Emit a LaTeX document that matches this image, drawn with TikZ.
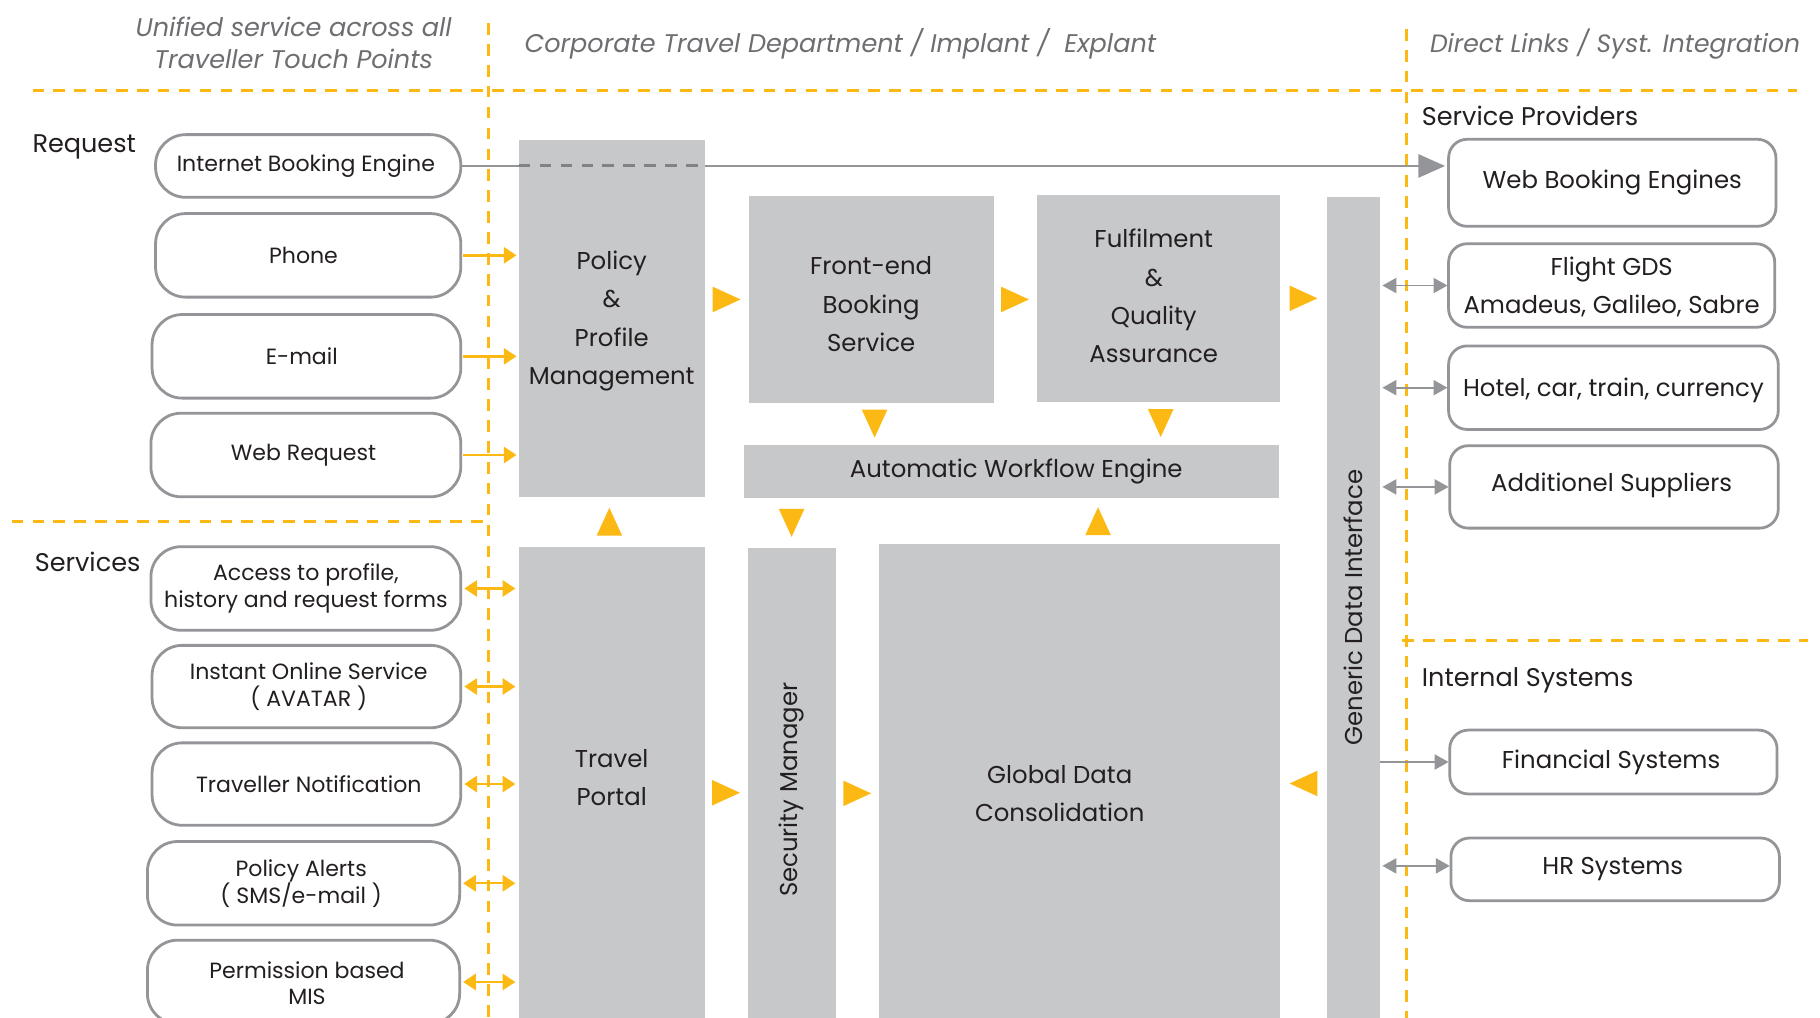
\documentclass[tikz,border=0pt]{standalone}
\usepackage{fontspec}
\setmainfont{Poppins}
\usetikzlibrary{arrows.meta,fit,calc}
\definecolor{org}{HTML}{FDB913}
\definecolor{boxgray}{HTML}{C7C8CA}
\definecolor{linegray}{HTML}{939598}
\definecolor{dashgray}{HTML}{808285}
\definecolor{txt}{HTML}{231F20}
\definecolor{headgray}{HTML}{6D6E71}
\newcommand\fLeft{\fontsize{9.5}{11.5}\selectfont}
\newcommand\fRight{\fontsize{10.5}{16.5}\selectfont}
\newcommand\fGray{\fontsize{10.5}{16.5}\selectfont}
\newcommand\fRot{\fontsize{10.5}{12}\selectfont}
\newcommand\fHead{\fontsize{11}{13.5}\selectfont\itshape}
\newcommand\fLab{\fontsize{11}{13}\selectfont}
\begin{document}
\begin{tikzpicture}[x=0.5pt,y=-0.5pt,
  every node/.style={inner sep=0pt, outer sep=0pt, text=txt},
  gbox/.style={fill=boxgray},
  lbox/.style={draw=linegray, line width=1.2pt, rounded corners=13pt, fill=white},
  rbox/.style={draw=linegray, line width=1.2pt, rounded corners=8pt, fill=white},
  lt/.style={font=\fLeft, align=center},
  rt/.style={font=\fRight, align=center},
  gt/.style={font=\fGray, align=center},
  head/.style={text=headgray, font=\fHead, align=center},
  lab/.style={font=\fLab, anchor=west},
  sep/.style={draw=org, line width=1.2pt, dash pattern=on 5pt off 4pt},
  oarr/.style={draw=org, line width=1pt, -{Triangle[length=5.5pt,width=7pt]}},
  oarrb/.style={draw=org, line width=1pt, {Triangle[length=5.5pt,width=7pt]}-{Triangle[length=5.5pt,width=7pt]}},
  garr/.style={draw=linegray, line width=0.8pt, -{Triangle[length=6pt,width=6.5pt]}},
  garrb/.style={draw=linegray, line width=0.8pt, {Triangle[length=6pt,width=6.5pt]}-{Triangle[length=6pt,width=6.5pt]}},
  otri/.pic={\fill[org] (-6pt,-5.5pt) -- (6pt,0pt) -- (-6pt,5.5pt) -- cycle;},
  tri/.style={midway, sloped, allow upside down}
]
\useasboundingbox (0,0) rectangle (1568,877);
\clip (0,0) rectangle (1568,877);
\fill[white] (0,0) rectangle (1568,877);

% separators
\draw[sep] (28,78) -- (1548,78);
\draw[sep] (421,20) -- (421,877);
\draw[sep] (1212,25) -- (1212,877);
\draw[sep] (10,449) -- (421,449);
\draw[sep] (1208,552) -- (1558,552);

% headers
\node[head] (h1) at (253,37) {Unified service across all\\Traveller Touch Points};
\node[head, anchor=west] (h2) at (452,38) {Corporate Travel Department / Implant /\ \ Explant};
\node[head, anchor=west, font=\fontsize{10.8}{13}\selectfont\itshape] (h3) at (1232,38) {Direct Links / Syst. Integration};

% labels
\node[lab] (lreq) at (28,127) {Request};
\node[lab] (lsrv) at (30,484) {Services};
\node[lab] (lsp) at (1225,100) {Service Providers};
\node[lab] (lis) at (1225,586) {Internal Systems};

% left boxes
\node[lbox, fit={(134,116)(397,170)}] (ibe) {};
\node[lt] at ([xshift=-1pt]ibe.center) {Internet Booking Engine};
\node[lbox, fit={(134,184)(397,256)}] (phone) {};
\node[lt] at ([xshift=-2pt]phone.center) {Phone};
\node[lbox, fit={(131,271)(397,343)}] (email) {};
\node[lt] at ([xshift=-2pt]email.center) {E-mail};
\node[lbox, fit={(130,356)(397,428)}] (webreq) {};
\node[lt] at ([xshift=-1pt]webreq.center) {Web Request};
\node[lbox, fit={(130,471)(397,543)}] (access) {};
\node[lt] at (access.center) {Access to profile,\\history and request forms};
\node[lbox, fit={(131,556)(397,627)}] (inst) {};
\node[lt] at ([xshift=1pt]inst.center) {Instant Online Service\\( AVATAR )};
\node[lbox, fit={(131,640)(397,711)}] (notif) {};
\node[lt] at ([xshift=1pt]notif.center) {Traveller Notification};
\node[lbox, fit={(127,725)(396,797)}] (alerts) {};
\node[lt] at ([xshift=-1pt]alerts.center) {Policy Alerts\\( SMS/e-mail )};
\node[lbox, fit={(127,810)(396,882)}] (mis) {};
\node[lt] at ([xshift=1.5pt,yshift=-0.5pt]mis.center) {Permission based\\MIS};

% gray boxes
\node[gbox, fit={(447,121)(607,428)}] (policy) {};
\node[gt] at ([yshift=-1pt]policy.center) {Policy\\\&\\Profile\\Management};
\node[gbox, fit={(645,169)(856,347)}] (front) {};
\node[gt] at ([yshift=-2pt]front.center) {Front-end\\Booking\\Service};
\node[gbox, fit={(893,168)(1103,346)}] (fulfil) {};
\node[gt] at ([xshift=-2pt,yshift=1pt]fulfil.center) {Fulfilment\\\&\\Quality\\Assurance};
\node[gbox, fit={(641,383)(1102,429)}] (awe) {};
\node[gt] at ([xshift=2pt]awe.center) {Automatic Workflow Engine};
\node[gbox, fit={(1143,170)(1189,877)}] (gdi) {};
\node[font=\fRot, rotate=90] (gdit) at (gdi.center) {Generic Data Interface};
\node[gbox, fit={(447,471)(607,877)}] (portal) {};
\node[gt] at ([yshift=2pt]portal.center) {Travel\\Portal};
\node[gbox, fit={(644,472)(720,877)}] (sec) {};
\node[font=\fRot, rotate=90] (sect) at ([yshift=-3pt]sec.center) {Security Manager};
\node[gbox, fit={(757,469)(1103,877)}] (global) {};
\node[gt] (globalt) at ([xshift=-8.5pt,yshift=-5.5pt]global.center) {Global Data\\Consolidation};

% right boxes
\node[rbox, fit={(1248,120)(1530,195)}] (wbe) {};
\node[rt] at (wbe.center) {Web Booking Engines};
\node[rbox, fit={(1248,210)(1529,282)}] (gds) {};
\node[rt] at ([yshift=-0.5pt]gds.center) {Flight GDS\\Amadeus, Galileo, Sabre};
\node[rbox, fit={(1248,298)(1532,370)}] (hotel) {};
\node[rt] at ([yshift=-1pt]hotel.center) {Hotel, car, train, currency};
\node[rbox, fit={(1249,384)(1532,455)}] (addsup) {};
\node[rt] at ([xshift=-1pt,yshift=0.5pt]addsup.center) {Additionel Suppliers};
\node[rbox, fit={(1249,629)(1531,684)}] (fin) {};
\node[rt] at ([xshift=-1pt]fin.center) {Financial Systems};
\node[rbox, fit={(1250,722)(1533,776)}] (hr) {};
\node[rt] at ([xshift=-1pt]hr.center) {HR Systems};

% IBE -> Web Booking Engines
\draw[linegray, line width=0.9pt] (ibe.east) -- (ibe.east -| policy.west);
\draw[dashgray, line width=1.3pt, dash pattern=on 5pt off 4pt] (ibe.east -| policy.west) -- (ibe.east -| policy.east);
\draw[linegray, line width=0.9pt, -{Triangle[length=11.5pt,width=10pt]}] (ibe.east -| policy.east) -- ([xshift=-1.5pt]wbe.west |- ibe.east);

% request arrows
\draw[oarr] ([xshift=1pt]phone.east) -- ([xshift=-1pt]phone.east -| policy.west);
\draw[oarr] ([xshift=1pt]email.east) -- ([xshift=-1pt]email.east -| policy.west);
\draw[oarr] ([xshift=1pt]webreq.east) -- ([xshift=-1pt]webreq.east -| policy.west);

% services arrows
\foreach \n in {access,inst,notif,alerts,mis}
  \draw[oarrb] ([xshift=1.5pt]\n.east) -- ([xshift=-1.5pt]\n.east -| portal.west);

% orange flow triangles
\path (policy.east |- front.west) -- (front.west) pic[tri]{otri};
\path (front.east) -- (front.east -| fulfil.west) pic[tri]{otri};
\path (fulfil.east) -- (fulfil.east -| gdi.west) pic[tri]{otri};
\path ([xshift=1.5pt]front.south) -- ([xshift=1.5pt]front.south |- awe.north) pic[tri]{otri};
\path ([xshift=1pt]fulfil.south) -- ([xshift=1pt]fulfil.south |- awe.north) pic[tri]{otri};
\path ([xshift=-1pt]portal.north) -- ([xshift=-1pt]policy.south) pic[tri]{otri};
\path (awe.south -| sec.north) -- (sec.north) pic[tri]{otri};
\path ([xshift=8pt]global.north) -- ([xshift=8pt]global.north |- awe.south) pic[tri]{otri};
\path ([yshift=-4.5pt]portal.east) -- ([yshift=-4.5pt]portal.east -| sec.west) pic[tri]{otri};
\path ([yshift=-4.5pt]sec.east) -- ([yshift=-4.5pt]sec.east -| global.west) pic[tri]{otri};
\path ([yshift=-1pt]global.east -| gdi.west) -- ([yshift=-1pt]global.east) pic[tri]{otri};

% gray right arrows
\draw[garrb] ([xshift=1pt]gdi.east |- gds.west) -- ([xshift=-0.5pt]gds.west);
\draw[garrb] ([xshift=1pt]gdi.east |- hotel.west) -- ([xshift=-0.5pt]hotel.west);
\draw[garrb] ([xshift=1pt]gdi.east |- addsup.west) -- ([xshift=-0.5pt]addsup.west);
\draw[garr] (gdi.east |- fin.west) -- ([xshift=-0.5pt]fin.west);
\draw[garrb] ([xshift=1pt,yshift=1.5pt]gdi.east |- hr.west) -- ([xshift=-0.5pt,yshift=1.5pt]hr.west);
\end{tikzpicture}
\end{document}
